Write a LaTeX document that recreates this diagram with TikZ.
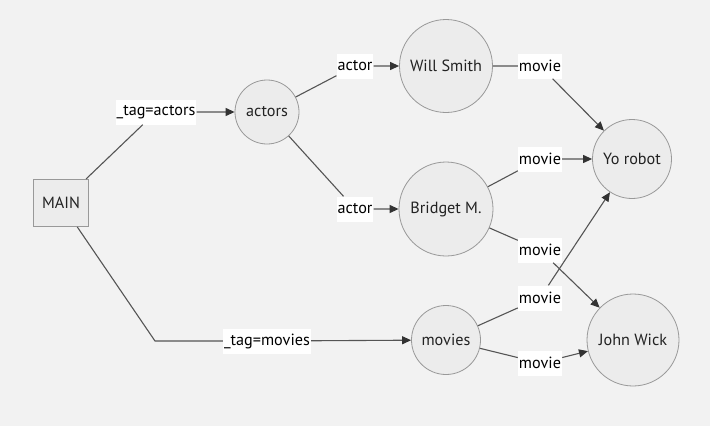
\documentclass[tikz,border=0pt]{standalone}
\usepackage{fontspec}
\setmainfont{PT Sans}
\usetikzlibrary{arrows.meta}
\definecolor{mmdcolor0001}{RGB}{242,242,242}
\definecolor{mmdcolor0002}{RGB}{236,236,236}
\definecolor{mmdcolor0003}{RGB}{153,153,153}
\definecolor{mmdcolor0004}{RGB}{85,85,85}
\definecolor{mmdcolor0005}{RGB}{51,51,51}
\definecolor{mmdcolor0006}{RGB}{34,34,34}
\begin{document}
\begin{tikzpicture}[yscale=-1
            ,font=\fontsize{16.2pt}{19pt}\selectfont
            ,pstyle0/.style={draw=mmdcolor0003,fill=mmdcolor0002,line width=1.0pt,text=mmdcolor0006,minimum width=55pt,minimum height=47pt,inner sep=0pt}
            ,pstyle1/.style={circle,draw=mmdcolor0003,fill=mmdcolor0002,line width=0.8pt,text=mmdcolor0006,inner sep=0pt}
            ,pstyle2/.style={fill=white,text=black,inner sep=1pt,minimum height=25pt}
            ,pstyle3/.style={draw=mmdcolor0004,line width=1.1pt,-{Triangle[length=9pt,width=8pt,color=mmdcolor0005]}}
        ]
        \fill[mmdcolor0001] (0pt,0pt) rectangle (710pt,426pt);
        \node[pstyle0] (main) at (61pt,203pt) {MAIN};
        \node[pstyle1,minimum size=64pt] (actors) at (267pt,112pt) {actors};
        \node[pstyle1,minimum size=69pt] (movies) at (446pt,340pt) {movies};
        \node[pstyle1,minimum size=93pt] (willsmith) at (446pt,66pt) {Will Smith};
        \node[pstyle1,minimum size=94pt] (bridget) at (446pt,209pt) {Bridget M.};
        \node[pstyle1,minimum size=79pt] (yorobot) at (632pt,159pt) {Yo robot};
        \node[pstyle1,minimum size=92pt] (johnwick) at (633pt,340pt) {John Wick};
        \node[pstyle2] (tagactors) at (156pt,112pt) {\_tag=actors};
        \node[pstyle2] (tagmovies) at (267pt,341pt) {\_tag=movies};
        \node[pstyle2] (actor1) at (355pt,66pt) {actor};
        \node[pstyle2] (actor2) at (355pt,209pt) {actor};
        \node[pstyle2] (movie1) at (540pt,66pt) {movie};
        \node[pstyle2] (movie2) at (540pt,159pt) {movie};
        \node[pstyle2] (movie3) at (540pt,250pt) {movie};
        \node[pstyle2] (movie4) at (540pt,298pt) {movie};
        \node[pstyle2] (movie5) at (540pt,363pt) {movie};
        \coordinate (bendmovies) at (155pt,341pt);
        \draw[pstyle3] (main) -- (tagactors) -- (actors);
        \draw[pstyle3] (main) -- (bendmovies) -- (tagmovies) -- (movies);
        \draw[pstyle3] (actors) -- (actor1) -- (willsmith);
        \draw[pstyle3] (actors) -- (actor2) -- (bridget);
        \draw[pstyle3] (willsmith) -- (movie1) -- (yorobot);
        \draw[pstyle3] (bridget) -- (movie2) -- (yorobot);
        \draw[pstyle3] (bridget) -- (movie3) -- (johnwick);
        \draw[pstyle3] (movies) -- (movie4) -- (yorobot);
        \draw[pstyle3] (movies) -- (movie5) -- (johnwick);
    \end{tikzpicture}
\end{document}
